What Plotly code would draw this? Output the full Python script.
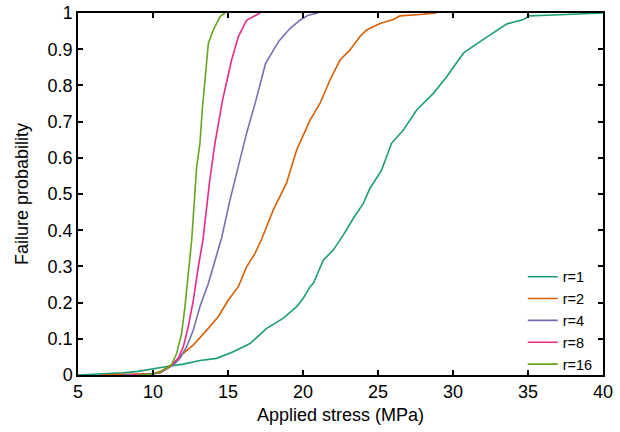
import plotly.graph_objects as go

# Applied stress (MPa) vs failure probability
r1_x = [5, 7, 8, 9, 9.8, 10.5, 11.13, 12.02, 13.13, 14.24, 15.35, 16.47, 17.58, 18.69, 19.58,
        20.02, 20.47, 20.69, 21.36, 22.02, 22.69, 23.36, 24.02, 24.47, 25.24, 25.9, 26.69,
        27.58, 28.69, 29.58, 30.69, 31.8, 33.02, 33.6, 34.7, 35.1, 37.1, 38.9, 40]
r1_y = [0, 0.003, 0.006, 0.01, 0.016, 0.02, 0.025, 0.03, 0.04, 0.046, 0.064, 0.087, 0.129,
        0.157, 0.189, 0.212, 0.244, 0.253, 0.318, 0.345, 0.387, 0.433, 0.474, 0.516, 0.566,
        0.64, 0.677, 0.732, 0.778, 0.824, 0.889, 0.921, 0.953, 0.97, 0.982, 0.992, 0.995,
        0.999, 1.0]

r2_x = [6.5, 8, 9, 10, 10.5, 11.36, 12.02, 12.69, 13.58, 14.35, 15.02, 15.69, 16.24, 16.8,
        17.24, 18.02, 18.9, 19.58, 20.47, 21.13, 21.8, 22.47, 23.13, 23.8, 24.24, 25.13,
        26.02, 26.47, 27.8, 28.9]
r2_y = [0, 0.001, 0.002, 0.004, 0.01, 0.032, 0.06, 0.083, 0.124, 0.161, 0.207, 0.244, 0.299,
        0.336, 0.375, 0.456, 0.53, 0.622, 0.704, 0.75, 0.815, 0.87, 0.898, 0.935, 0.953,
        0.971, 0.982, 0.992, 0.996, 1.0]

r4_x = [8, 9.5, 10.5, 11.36, 11.8, 12.24, 12.69, 13.13, 13.69, 14.13, 14.58, 15.13, 15.69,
        16.24, 16.87, 17.5, 18.4, 19.13, 19.8, 20.35, 21]
r4_y = [0, 0.001, 0.006, 0.028, 0.046, 0.078, 0.124, 0.189, 0.253, 0.318, 0.38, 0.483, 0.575,
        0.668, 0.76, 0.86, 0.923, 0.957, 0.98, 0.994, 1.0]

r8_x = [8.5, 10, 10.5, 11.2, 11.69, 12.02, 12.35, 12.69, 13.02, 13.33, 13.76, 14.13, 14.64,
        15.24, 15.69, 16.24, 17.13]
r8_y = [0, 0.003, 0.007, 0.025, 0.046, 0.078, 0.133, 0.207, 0.299, 0.373, 0.53, 0.64, 0.76,
        0.87, 0.935, 0.98, 1.0]

r16_x = [9, 10, 10.5, 11.24, 11.58, 11.91, 12.13, 12.35, 12.58, 12.91, 13.13, 13.3, 13.47,
         13.69, 14.02, 14.47, 14.8]
r16_y = [0, 0.003, 0.008, 0.028, 0.06, 0.115, 0.189, 0.281, 0.373, 0.575, 0.64, 0.74, 0.824,
         0.916, 0.953, 0.99, 1.0]

series = [("r=1", r1_x, r1_y, "#1b9e77"),
          ("r=2", r2_x, r2_y, "#d95f02"),
          ("r=4", r4_x, r4_y, "#7570b3"),
          ("r=8", r8_x, r8_y, "#e7298a"),
          ("r=16", r16_x, r16_y, "#66a61e")]

x_ticks = [5, 10, 15, 20, 25, 30, 35, 40]
y_ticks = [0, 0.1, 0.2, 0.3, 0.4, 0.5, 0.6, 0.7, 0.8, 0.9, 1]
y_tick_text = ["0", "0.1", "0.2", "0.3", "0.4", "0.5", "0.6", "0.7", "0.8", "0.9", "1"]

fig = go.Figure()
for name, xs, ys, col in series:
    fig.add_trace(go.Scatter(x=xs, y=ys, mode="lines", name=name,
                             line=dict(color=col, width=1.6)))

font_family = "Liberation Sans, Arial, sans-serif"
fig.update_layout(
    width=620, height=432,
    margin=dict(l=78, r=17, t=13, b=57),
    paper_bgcolor="white", plot_bgcolor="white",
    font=dict(family=font_family, size=18, color="black"),
    showlegend=True,
    legend=dict(x=0.99, y=-0.016, xanchor="right", yanchor="bottom",
                bgcolor="rgba(0,0,0,0)",
                font=dict(family=font_family, size=14.5, color="black"),
                tracegroupgap=0),
)
axis_common = dict(ticks="inside", ticklen=5, showline=True, linecolor="black",
                   linewidth=1.5, mirror="ticks", tickcolor="black", tickwidth=1.5,
                   showgrid=False, zeroline=False, automargin=False,
                   tickfont=dict(family=font_family, size=18, color="black"))
fig.update_xaxes(range=[5, 40], tickvals=x_ticks,
                 title=dict(text="Applied stress (MPa)", standoff=7,
                            font=dict(family=font_family, size=18, color="black")),
                 **axis_common)
fig.update_yaxes(range=[0, 1], tickvals=y_ticks, ticktext=y_tick_text,
                 title=dict(text="Failure probability", standoff=14,
                            font=dict(family=font_family, size=18, color="black")),
                 **axis_common)

fig.write_html("out.html")
